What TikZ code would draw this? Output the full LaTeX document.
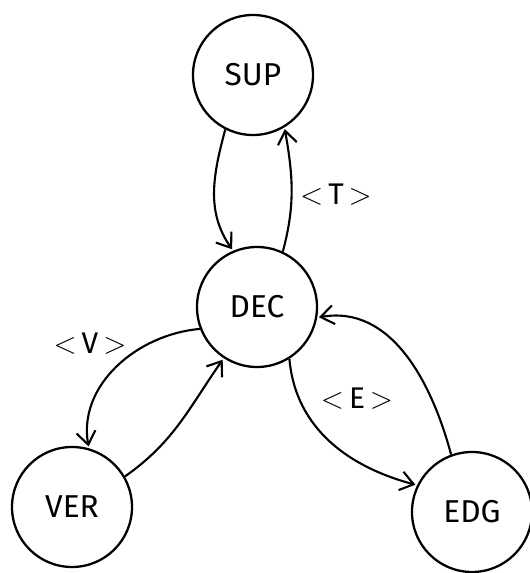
\documentclass[tikz,border=0pt]{standalone}
\usepackage{fontspec}
\setmainfont{Fira Sans}
\usetikzlibrary{arrows.meta}

\begin{document}
\begin{tikzpicture}[
    state/.style = {draw, circle, line width=1.3pt, minimum size=2.4cm, inner sep=0pt, font=\fontsize{18}{20}\selectfont},
    link/.style = {-{Straight Barb[length=2.6mm, width=3.8mm]}, line width=1.2pt, shorten >=1pt},
    tag/.style = {font=\fontsize{17}{20}\selectfont}
  ]
        \useasboundingbox (0,0) rectangle (10.58,11.46);
        % the four states
        \node [state] (sup) at (5.06,9.96) {SUP};
        \node [state] (dec) at (5.14,5.32) {DEC};
        \node [state] (ver) at (1.44,1.32) {VER};
        \node [state] (edg) at (9.44,1.22) {EDG};
        % transitions
        \draw [link] (sup.243) to [out=255, in=125] (dec.113);
        \draw [link] (dec.65) to [out=75, in=280] (sup.301);
        \draw [link] (dec.201) to [out=185, in=100] (ver.74);
        \draw [link] (ver.30) to [out=35, in=235] (dec.237);
        \draw [link] (dec.302) to [out=275, in=165] (edg.154);
        \draw [link] (edg.110) to [out=105, in=10] (dec.350);
        % labels on the return arcs
        \node [tag] (lt) at (6.72,7.56) {$<$\,T\,$>$};
        \node [tag] (lv) at (1.80,4.58) {$<$\,V\,$>$};
        \node [tag] (le) at (7.14,3.48) {$<$\,E\,$>$};
\end{tikzpicture}
\end{document}
